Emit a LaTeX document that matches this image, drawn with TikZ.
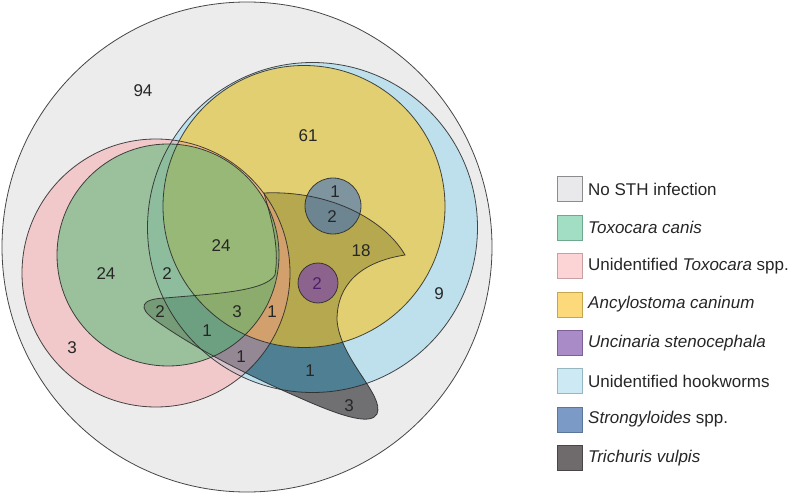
\documentclass[tikz,border=0pt]{standalone}
\usepackage{fontspec}
\setmainfont{Liberation Sans}
\definecolor{bgC}{RGB}{236,236,237}
\definecolor{pinkC}{RGB}{252,150,154}
\definecolor{blueC}{RGB}{143,213,236}
\definecolor{tintC}{RGB}{60,160,200}
\definecolor{trichC}{RGB}{30,28,32}
\definecolor{yellowC}{RGB}{252,196,33}
\definecolor{greenC}{RGB}{70,185,110}
\definecolor{strongC}{RGB}{60,110,190}
\definecolor{uncinC}{RGB}{107,43,191}
\definecolor{lineC}{RGB}{40,40,40}
\begin{document}
\begin{tikzpicture}[x=1pt,y=-1pt,
  outl/.style={draw=lineC, line width=0.8pt, draw opacity=0.85},
  num/.style={font=\fontsize{17}{20}\selectfont, text=black!85, inner sep=0pt},
  legbox/.style={minimum size=25pt, inner sep=0pt, line width=0.8pt},
  legtext/.style={anchor=west, font=\fontsize{17}{20}\selectfont, inner sep=0pt, text=black!85}]
\useasboundingbox (0,0) rectangle (789,494);
\def\trichpath{(264,193) .. controls (330,190) and (385,220) .. (405,255)
  .. controls (360,262) and (337,285) .. (337,320)
  .. controls (340,360) and (385,395) .. (377,414)
  .. controls (371,425) and (345,418) .. (300,398)
  .. controls (240,372) and (190,345) .. (155,320)
  .. controls (138,308) and (140,299) .. (165,298)
  .. controls (210,294) and (265,292) .. (275,275)
  .. controls (280,245) and (270,215) .. (264,193) -- cycle}
% background set
\fill[bgC] (247,247) circle [radius=245pt];
% fills
\fill[blueC, fill opacity=0.5] (312.5,227.5) circle [radius=165pt];
\fill[trichC, fill opacity=0.6] \trichpath;
\begin{scope}
  \clip \trichpath;
  \fill[tintC, fill opacity=0.4] (312.5,227.5) circle [radius=165pt];
\end{scope}
\fill[yellowC, fill opacity=0.6] (304,206.5) circle [radius=141pt];
\fill[pinkC, fill opacity=0.4] (156,273) circle [radius=134pt];
\fill[greenC, fill opacity=0.5] (168,255) circle [radius=111pt];
\fill[strongC, fill opacity=0.6] (333,206) circle [radius=28pt];
\fill[uncinC, fill opacity=0.55] (318,283) circle [radius=20pt];
% outlines
\draw[outl] (247,247) circle [radius=245pt];
\draw[outl] (312.5,227.5) circle [radius=165pt];
\draw[outl] \trichpath;
\draw[outl] (304,206.5) circle [radius=141pt];
\draw[outl] (156,273) circle [radius=134pt];
\draw[outl] (168,255) circle [radius=111pt];
\draw[outl] (333,206) circle [radius=28pt];
\draw[outl] (318,283) circle [radius=20pt];
% numbers
\node[num] (n94) at (143,91) {94};
\node[num] (n61) at (308,136) {61};
\node[num] (ns1) at (335,192) {1};
\node[num] (ns2) at (332,217) {2};
\node[num] (nm24) at (221,246) {24};
\node[num] (n18) at (361,251) {18};
\node[num] (nl24) at (106,274) {24};
\node[num] (nt2) at (167,274) {2};
\node[num, text={rgb,255:red,80;green,30;blue,110}] (nu2) at (317,284) {2};
\node[num] (n9) at (439,294) {9};
\node[num] (nl2) at (160,312) {2};
\node[num] (n3) at (237,312) {3};
\node[num] (no1) at (272,312) {1};
\node[num] (ng1) at (207,331) {1};
\node[num] (np3) at (72,348) {3};
\node[num] (nm1) at (241,357) {1};
\node[num] (nb1) at (310,371) {1};
\node[num] (nb3) at (349,406) {3};
% legend
\node[legbox, fill={rgb,255:red,233;green,232;blue,234}, draw={rgb,255:red,140;green,140;blue,142}] (l1) at (569.5,189) {};
\node[legbox, fill={rgb,255:red,162;green,222;blue,196}, draw={rgb,255:red,110;green,168;blue,143}] (l2) at (569.5,227.5) {};
\node[legbox, fill={rgb,255:red,252;green,212;blue,214}, draw={rgb,255:red,200;green,160;blue,162}] (l3) at (569.5,266) {};
\node[legbox, fill={rgb,255:red,252;green,217;blue,123}, draw={rgb,255:red,196;green,166;blue,76}] (l4) at (569.5,304.5) {};
\node[legbox, fill={rgb,255:red,169;green,139;blue,200}, draw={rgb,255:red,125;green,97;blue,150}] (l5) at (569.5,343) {};
\node[legbox, fill={rgb,255:red,205;green,234;blue,244}, draw={rgb,255:red,150;green,183;blue,194}] (l6) at (569.5,381) {};
\node[legbox, fill={rgb,255:red,123;green,155;blue,198}, draw={rgb,255:red,90;green,118;blue,152}] (l7) at (569.5,419.5) {};
\node[legbox, fill={rgb,255:red,111;green,107;blue,108}, draw={rgb,255:red,74;green,70;blue,71}] (l8) at (569.5,458) {};
\node[legtext] (t1) at (588,189) {No STH infection};
\node[legtext] (t2) at (588,227.5) {\textit{Toxocara canis}};
\node[legtext] (t3) at (588,266) {Unidentified \textit{Toxocara} spp.};
\node[legtext] (t4) at (588,304.5) {\textit{Ancylostoma caninum}};
\node[legtext] (t5) at (588,343) {\textit{Uncinaria stenocephala}};
\node[legtext] (t6) at (588,381) {Unidentified hookworms};
\node[legtext] (t7) at (588,419.5) {\textit{Strongyloides} spp.};
\node[legtext] (t8) at (588,458) {\textit{Trichuris vulpis}};
\end{tikzpicture}
\end{document}
